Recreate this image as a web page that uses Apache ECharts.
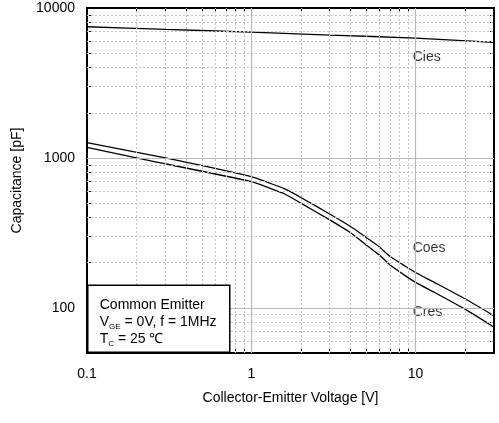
<!DOCTYPE html>
<html>
<head>
<meta charset="utf-8">
<script src="https://cdn.jsdelivr.net/npm/echarts@6/dist/echarts.min.js"></script>
<style>html,body{margin:0;padding:0;background:#fff}#c{width:499px;height:423px}</style>
</head>
<body>
<div id="c"></div>
<script>
// Data
const ciesV = [0.1, 0.3, 1, 3, 10, 30];
const ciesC = [7500, 7200, 6900, 6600, 6300, 5900];
const coesV = [0.1, 0.3, 1, 1.3, 1.6, 2, 3, 4, 5, 6, 7, 8.5, 10, 13, 20, 30];
const coesC = [1265, 1000, 750, 678, 621, 545, 423, 350, 295, 256, 220, 192, 172, 148, 115, 88.5];
const cresV = [0.1, 0.2, 1, 1.3, 1.6, 2, 3, 4, 5, 6, 7, 8.5, 10, 13, 20, 30];
const cresC = [1175, 1000, 695, 628, 575, 500, 386, 318, 263, 226, 193, 166, 148, 127, 98, 74.3];
const curveNames = ['Cies', 'Coes', 'Cres'];
const labelV = [9.6, 9.6, 9.6];
const labelC = [4700, 252, 94];
const xTickLabels = [0.1, 1, 10];
const yTickLabels = [100, 1000, 10000];
const xMajor = [1, 10];
const xMinor = [0.2,0.3,0.4,0.5,0.6,0.7,0.8,0.9,2,3,4,5,6,7,8,9,20];
const yMajor = [100, 1000];
const yMinor = [60,70,80,90,200,300,400,500,600,700,800,900,2000,3000,4000,5000,6000,7000,8000,9000];

const F = 'Liberation Sans, Arial, sans-serif';
const zip = (a, b) => a.map((v, i) => [v, b[i]]);
const xTicksAll = [0.1].concat(xMinor, xMajor, [30]);
const yTicksAll = [50].concat(yMinor, yMajor, [10000]);

const chart = echarts.init(document.getElementById('c'), null, {renderer: 'canvas'});
const axisCommonX = {
  type: 'log', logBase: 10, min: 0.1, max: 30, gridIndex: 0,
  axisLine: {show: false},
  splitLine: {show: false}, minorSplitLine: {show: false}
};
const axisCommonY = {
  type: 'log', logBase: 10, min: 50, max: 10000, gridIndex: 0,
  axisLine: {show: false},
  splitLine: {show: false}, minorSplitLine: {show: false}
};
const lineStyleCurve = {color: '#000', width: 1.3};
chart.setOption({
  animation: false,
  backgroundColor: '#fff',
  grid: {left: 87, right: 5, top: 8, bottom: 70, show: true, borderColor: '#000', borderWidth: 2, backgroundColor: 'transparent', z: 5},
  xAxis: [
    Object.assign({}, axisCommonX, {
      position: 'bottom',
      name: 'Collector-Emitter Voltage [V]', nameLocation: 'middle', nameGap: 38,
      nameTextStyle: {fontFamily: F, fontSize: 14, color: '#000'},
      axisTick: {show: true, inside: true, length: 4, lineStyle: {color: '#000', width: 1}, customValues: xTicksAll},
      axisLabel: {show: true, fontFamily: F, fontSize: 14, color: '#000', margin: 14, customValues: xTickLabels,
        formatter: v => String(v)}
    }),
    Object.assign({}, axisCommonX, {
      position: 'top',
      axisTick: {show: true, inside: true, length: 4, lineStyle: {color: '#000', width: 1}, customValues: xTicksAll},
      axisLabel: {show: false}
    })
  ],
  yAxis: [
    Object.assign({}, axisCommonY, {
      position: 'left',
      name: 'Capacitance [pF]', nameLocation: 'middle', nameGap: 63, nameRotate: 90,
      nameTextStyle: {fontFamily: F, fontSize: 14, color: '#000'},
      axisTick: {show: true, inside: true, length: 4, lineStyle: {color: '#000', width: 1}, customValues: yTicksAll},
      axisLabel: {show: true, fontFamily: F, fontSize: 14, color: '#000', margin: 12, customValues: yTickLabels,
        formatter: v => String(v)}
    }),
    Object.assign({}, axisCommonY, {
      position: 'right',
      axisTick: {show: true, inside: true, length: 4, lineStyle: {color: '#000', width: 1}, customValues: yTicksAll},
      axisLabel: {show: false}
    })
  ],
  series: [
    {
      type: 'line', name: 'grid', data: [], z: 1, silent: true,
      markLine: {
        silent: true, symbol: 'none', label: {show: false}, animation: false,
        data: [].concat(
          xMinor.map(v => ({xAxis: v, lineStyle: {color: '#c4c4c4', width: 1, type: [2, 2]}})),
          yMinor.map(v => ({yAxis: v, lineStyle: {color: '#c4c4c4', width: 1, type: [2, 2]}})),
          xMajor.map(v => ({xAxis: v, lineStyle: {color: '#b8b8b8', width: 1.2, type: 'solid'}})),
          yMajor.map(v => ({yAxis: v, lineStyle: {color: '#b8b8b8', width: 1.2, type: 'solid'}}))
        )
      }
    },
    {type: 'line', name: 'Cies', data: zip(ciesV, ciesC), smooth: 0.2, symbol: 'none', lineStyle: lineStyleCurve, z: 3},
    {type: 'line', name: 'Coes', data: zip(coesV, coesC), smooth: 0.2, symbol: 'none', lineStyle: lineStyleCurve, z: 3},
    {type: 'line', name: 'Cres', data: zip(cresV, cresC), smooth: 0.2, symbol: 'none', lineStyle: lineStyleCurve, z: 3},
    {
      type: 'scatter', name: 'labels', symbolSize: 0, z: 4, silent: true,
      data: curveNames.map((n, i) => ({name: n, value: [labelV[i], labelC[i]]})),
      label: {show: true, position: 'right', distance: 0, formatter: '{b}', fontFamily: F, fontSize: 14, color: '#000'}
    }
  ],
  graphic: [{
    type: 'group', left: 87, bottom: 70, z: 100,
    children: [
      {type: 'rect', z: 100, shape: {x: 0, y: 0, width: 142, height: 67}, style: {fill: '#fff', stroke: '#000', lineWidth: 1.5}},
      {type: 'text', z: 101, x: 12, y: 10, style: {
        text: '{n|Common Emitter}\n{n|V}{s|GE}{n| = 0V, f = 1MHz}\n{n|T}{s|C}{n| = 25 ℃}',
        rich: {
          n: {fontFamily: F, fontSize: 14, color: '#000', lineHeight: 17, verticalAlign: 'bottom'},
          s: {fontFamily: F, fontSize: 8, color: '#000', lineHeight: 17, verticalAlign: 'bottom', padding: [0, 0, -2, 0]}
        }
      }}
    ]
  }]
});
</script>
</body>
</html>
